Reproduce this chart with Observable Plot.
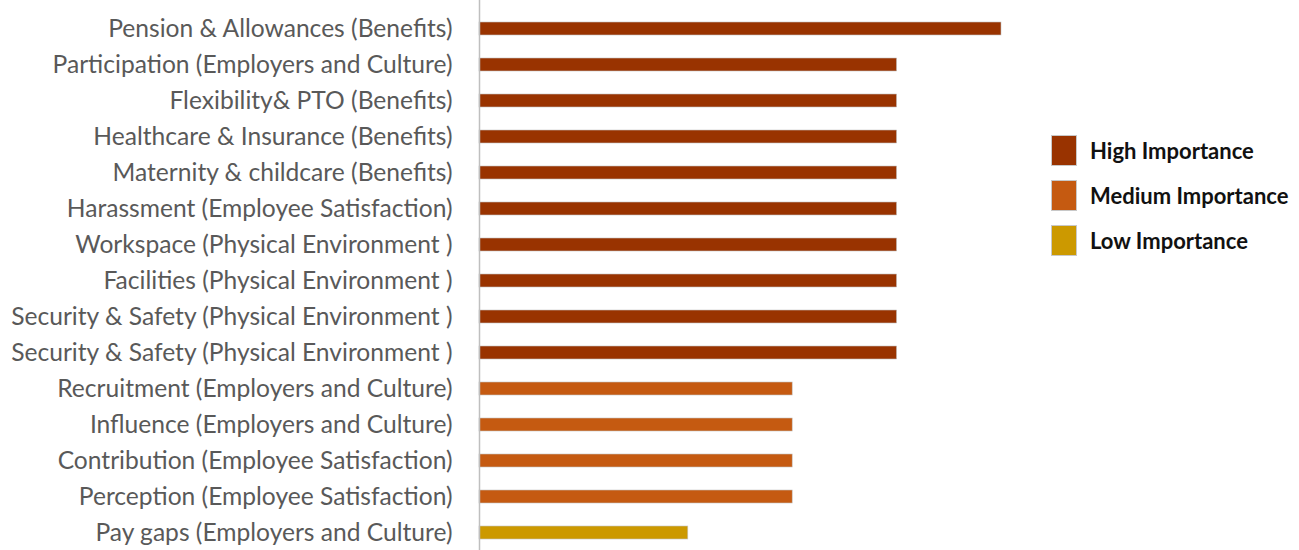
<!DOCTYPE html>
<html>
<head>
<meta charset="utf-8">
<script src="https://cdn.jsdelivr.net/npm/d3@7"></script>
<script src="https://cdn.jsdelivr.net/npm/@observablehq/plot@0.6"></script>
<style>
  html, body { margin: 0; padding: 0; background: #fff; }
  #wrap { position: relative; width: 1299px; height: 550px; overflow: hidden; }
  #chart { position: absolute; left: 0; top: 0; }
  #legend { position: absolute; left: 1051px; top: 135px; font-family: Lato, "Open Sans", sans-serif; font-weight: bold; font-size: 22px; color: #111; }
  .item { display: flex; align-items: center; height: 31px; margin-bottom: 14px; }
  .sw { width: 26px; height: 31px; box-sizing: border-box; border: 1px solid #c8c8c8; margin-right: 13px; }
</style>
</head>
<body>
<div id="wrap"><div id="chart"></div><div id="legend"></div></div>
<script>
const labels = [
  "Pension & Allowances (Benefits)",
  "Participation (Employers and Culture)",
  "Flexibility& PTO (Benefits)",
  "Healthcare & Insurance (Benefits)",
  "Maternity & childcare (Benefits)",
  "Harassment (Employee Satisfaction)",
  "Workspace (Physical Environment )",
  "Facilities (Physical Environment )",
  "Security & Safety (Physical Environment )",
  "Security & Safety (Physical Environment )",
  "Recruitment (Employers and Culture)",
  "Influence (Employers and Culture)",
  "Contribution (Employee Satisfaction)",
  "Perception (Employee Satisfaction)",
  "Pay gaps (Employers and Culture)"
];
const values = [5, 4, 4, 4, 4, 4, 4, 4, 4, 4, 3, 3, 3, 3, 2];
const importance = ["High", "High", "High", "High", "High", "High", "High", "High", "High", "High",
  "Medium", "Medium", "Medium", "Medium", "Low"];
const levels = ["High", "Medium", "Low"];
const levelNames = ["High Importance", "Medium Importance", "Low Importance"];
const colors = ["#993300", "#C55A11", "#CC9900"];

const data = labels.map((d, i) => ({idx: i, label: d, value: values[i], imp: importance[i]}));

const chart = Plot.plot({
  width: 1030,
  height: 550,
  marginLeft: 479,
  marginRight: 29,
  marginTop: 0,
  marginBottom: 0,
  style: {fontFamily: "Lato, 'Open Sans', sans-serif", background: "transparent"},
  x: {domain: [0, 5], axis: null},
  y: {domain: d3.range(labels.length), range: [8.2, 552.6], paddingInner: 0.65, paddingOuter: 0.325, align: 0.5,
      tickFormat: i => labels[i], tickSize: 0, tickPadding: 27, label: null},
  color: {domain: levels, range: colors},
  marks: [
    Plot.barX(data, {x: "value", y: "idx", fill: "imp", stroke: "#c4c4c4", strokeWidth: 0.6}),
    Plot.ruleX([0], {stroke: "#bfbfbf", strokeWidth: 1.5}),
    Plot.axisY({tickSize: 0, tickPadding: 27, tickFormat: i => labels[i], fontSize: 24.6, fill: "#595959", label: null})
  ]
});
document.getElementById("chart").appendChild(chart);

const legend = document.getElementById("legend");
levels.forEach((l, i) => {
  const it = document.createElement("div");
  it.className = "item";
  const sw = document.createElement("div");
  sw.className = "sw";
  sw.style.background = colors[i];
  const tx = document.createElement("span");
  tx.textContent = levelNames[i];
  it.appendChild(sw); it.appendChild(tx);
  legend.appendChild(it);
});
</script>
</body>
</html>
